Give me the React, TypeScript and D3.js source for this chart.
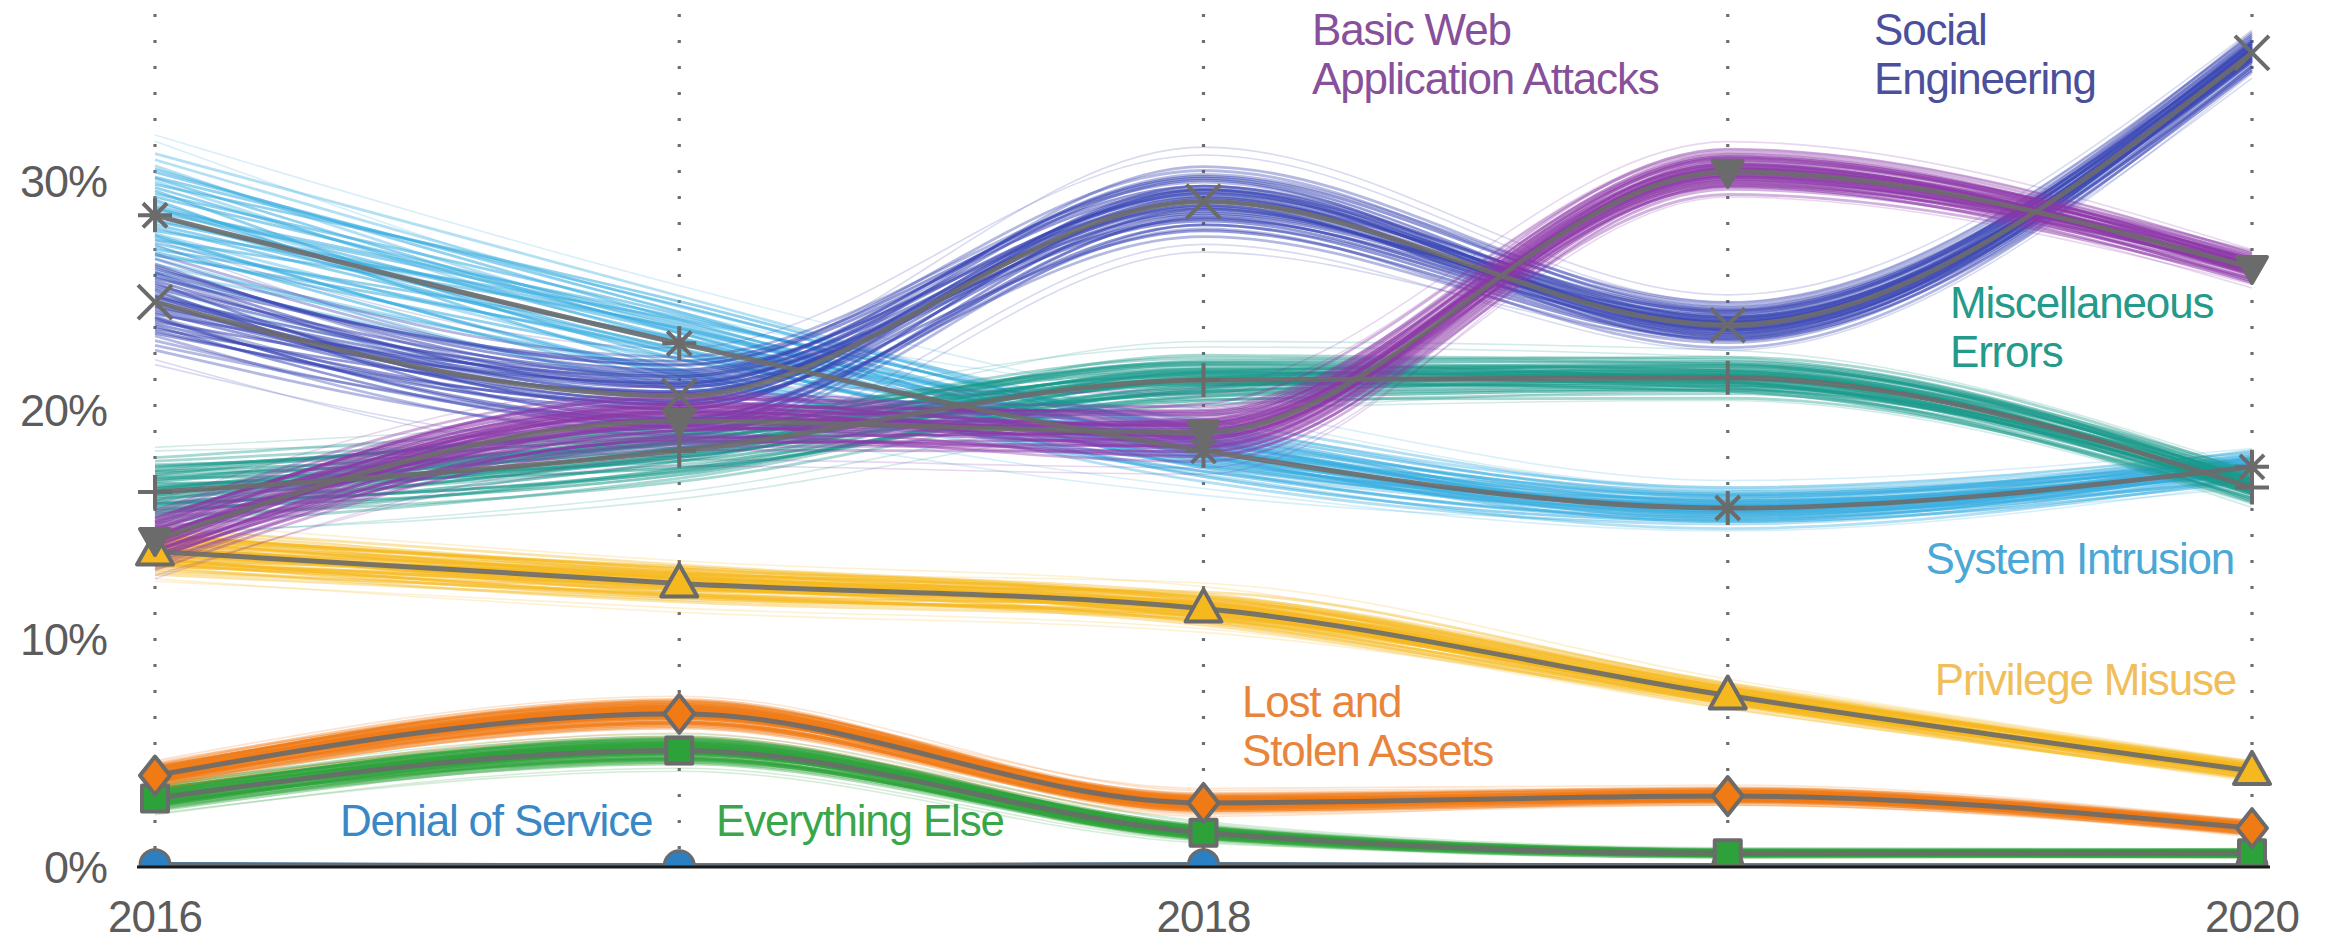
import React from "react";
import * as d3 from "d3";

const years = [2016, 2017, 2018, 2019, 2020];
const yTicks = [0, 10, 20, 30];
const xTickYears = [2016, 2018, 2020];

const seriesNames = [
  "Denial of Service",
  "Everything Else",
  "Lost and Stolen Assets",
  "Privilege Misuse",
  "System Intrusion",
  "Miscellaneous Errors",
  "Social Engineering",
  "Basic Web Application Attacks",
];

const dosValues = [0.1, 0.05, 0.1, 0.05, 0.05];
const everythingElseValues = [3.0, 5.1, 1.5, 0.6, 0.6];
const lostStolenValues = [4.0, 6.7, 2.8, 3.1, 1.7];
const privilegeValues = [13.8, 12.4, 11.3, 7.5, 4.2];
const systemIntrusionValues = [28.5, 22.9, 18.2, 15.7, 17.5];
const miscErrorsValues = [16.4, 18.2, 21.3, 21.4, 16.6];
const socialEngValues = [24.7, 20.6, 29.1, 23.7, 35.6];
const basicWebValues = [14.3, 19.5, 19.0, 30.4, 26.2];

// half-width of the spread of sampled lines, per year (percentage points)
const dosSpread = [0.05, 0.05, 0.05, 0.05, 0.05];
const everythingElseSpread = [0.55, 0.65, 0.35, 0.2, 0.2];
const lostStolenSpread = [0.5, 0.7, 0.45, 0.4, 0.35];
const privilegeSpread = [1.0, 0.9, 0.8, 0.6, 0.45];
const systemIntrusionSpread = [2.7, 2.3, 1.5, 1.0, 0.8];
const miscErrorsSpread = [1.5, 1.5, 1.2, 1.0, 0.8];
const socialEngSpread = [2.1, 1.9, 1.7, 1.1, 1.0];
const basicWebSpread = [1.3, 1.4, 1.4, 1.1, 0.8];

// hand-typed deviation patterns (in units of the spread) for the thin sample lines
const sampleDeviations = [
  [0.9, 0.7, 0.8, 0.6, 0.5],
  [-0.8, -0.6, -0.7, -0.9, -0.6],
  [0.3, 0.4, 0.2, 0.1, 0.3],
  [-0.2, -0.1, 0.1, -0.3, -0.2],
  [0.6, 0.2, -0.3, 0.4, 0.7],
  [-0.5, -0.7, -0.2, 0.1, -0.4],
  [0.1, 0.5, 0.6, 0.3, -0.1],
  [-0.1, 0.2, -0.5, -0.4, 0.2],
  [1.0, 0.9, 0.5, 0.2, 0.0],
  [-1.0, -0.8, -0.4, -0.3, -0.5],
  [0.4, -0.3, 0.3, 0.6, 0.4],
  [-0.4, 0.3, -0.1, -0.6, -0.8],
  [0.2, 0.0, 0.9, 0.8, 0.6],
  [-0.3, -0.4, -0.9, -0.7, -0.3],
  [0.7, 0.6, 0.0, -0.2, 0.1],
  [-0.6, -0.3, 0.4, 0.5, 0.2],
  [0.0, -0.2, -0.1, 0.0, 0.1],
  [0.5, 0.8, 0.4, 0.0, -0.3],
  [-0.7, -0.9, -0.6, -0.1, 0.3],
  [0.8, 0.3, 0.7, 0.9, 0.8],
  [-0.9, -0.5, 0.0, 0.3, 0.5],
  [0.15, 0.1, -0.25, 0.2, -0.15],
  [-0.15, 0.05, 0.3, -0.2, 0.0],
  [0.35, 0.55, 0.15, -0.45, -0.6],
  [-0.45, -0.2, -0.35, 0.25, 0.45],
  [0.25, -0.5, -0.6, -0.5, -0.1],
  [-0.25, 0.45, 0.65, 0.7, 0.35],
  [0.55, 0.05, 0.1, 0.45, 0.9],
  [-0.55, 0.1, 0.25, -0.05, -0.25],
  [0.05, 0.35, -0.45, 0.15, 0.55],
  [0.45, 0.25, 0.55, -0.15, -0.35],
  [-0.35, -0.55, 0.05, 0.55, 0.15],
  [0.75, 0.45, -0.15, -0.35, 0.25],
  [-0.65, -0.15, -0.75, -0.55, -0.05],
  [0.12, -0.12, 0.22, 0.32, -0.22],
  [-0.08, 0.28, -0.18, -0.12, 0.42],
  [0.62, 0.72, 0.32, 0.12, 0.22],
  [-0.32, -0.62, -0.42, -0.22, -0.72],
  [1.3, 1.1, 1.2, 0.9, 0.8],
  [-1.3, -1.2, -1.1, -1.0, -0.9],
  [1.2, 0.6, 1.4, 1.2, 1.0],
  [-1.2, -1.4, -1.3, -0.6, -1.1],
];

type Marker = "circle" | "square" | "diamond" | "triangle" | "asterisk" | "plus" | "times" | "triangleDown";

const series = [
  { name: seriesNames[0], values: dosValues, spread: dosSpread, color: "#2b7fc3", marker: "circle" as Marker },
  { name: seriesNames[1], values: everythingElseValues, spread: everythingElseSpread, color: "#2ea23a", marker: "square" as Marker },
  { name: seriesNames[2], values: lostStolenValues, spread: lostStolenSpread, color: "#f07a14", marker: "diamond" as Marker },
  { name: seriesNames[3], values: privilegeValues, spread: privilegeSpread, color: "#f5b81e", marker: "triangle" as Marker },
  { name: seriesNames[4], values: systemIntrusionValues, spread: systemIntrusionSpread, color: "#38ade0", marker: "asterisk" as Marker },
  { name: seriesNames[5], values: miscErrorsValues, spread: miscErrorsSpread, color: "#19998a", marker: "plus" as Marker },
  { name: seriesNames[6], values: socialEngValues, spread: socialEngSpread, color: "#3a47b4", marker: "times" as Marker },
  { name: seriesNames[7], values: basicWebValues, spread: basicWebSpread, color: "#8c37a8", marker: "triangleDown" as Marker },
];

const labels = [
  { lines: ["Basic Web", "Application Attacks"], x: 1312, y: 45, anchor: "start", color: "#87509b" },
  { lines: ["Social", "Engineering"], x: 1874, y: 45, anchor: "start", color: "#4b509c" },
  { lines: ["Miscellaneous", "Errors"], x: 1950, y: 318, anchor: "start", color: "#25998a" },
  { lines: ["System Intrusion"], x: 2234, y: 574, anchor: "end", color: "#4aa7d6" },
  { lines: ["Privilege Misuse"], x: 2236, y: 695, anchor: "end", color: "#f1be5c" },
  { lines: ["Lost and", "Stolen Assets"], x: 1242, y: 717, anchor: "start", color: "#e9843c" },
  { lines: ["Denial of Service"], x: 340, y: 836, anchor: "start", color: "#3a87c5" },
  { lines: ["Everything Else"], x: 716, y: 836, anchor: "start", color: "#3aa64a" },
];

const W = 2338;
const H = 941;
const FONT = "'Liberation Sans', Arial, Helvetica, sans-serif";
const GRAY = "#6b6b6b";
const LABEL_SIZE = 44;
const LINE_GAP = 49;

function markerShape(m: Marker, x: number, y: number, color: string) {
  const s = 17;
  const common = { stroke: GRAY, strokeWidth: 4, strokeLinejoin: "round" as const };
  switch (m) {
    case "circle":
      return <circle cx={x} cy={y} r={15} fill={color} stroke={GRAY} strokeWidth={3} />;
    case "square":
      return <rect x={x - 13} y={y - 13} width={26} height={26} fill={color} {...common} />;
    case "diamond":
      return <path d={`M${x},${y - 19}L${x + 15},${y}L${x},${y + 19}L${x - 15},${y}Z`} fill={color} {...common} />;
    case "triangle":
      return <path d={`M${x},${y - 19}L${x + 18},${y + 13}L${x - 18},${y + 13}Z`} fill={color} {...common} />;
    case "triangleDown":
      return <path d={`M${x - 15},${y - 11}L${x + 15},${y - 11}L${x},${y + 15}Z`} fill={GRAY} {...common} />;
    case "asterisk": {
      const d = [0, 45, 90, 135]
        .map((a) => {
          const r = (a * Math.PI) / 180;
          const dx = Math.cos(r) * s, dy = Math.sin(r) * s;
          return `M${x - dx},${y - dy}L${x + dx},${y + dy}`;
        })
        .join("");
      return <path d={d} fill="none" {...common} />;
    }
    case "plus":
      return <path d={`M${x - s},${y}L${x + s},${y}M${x},${y - s}L${x},${y + s}`} fill="none" {...common} />;
    case "times":
      return <path d={`M${x - s},${y - s}L${x + s},${y + s}M${x - s},${y + s}L${x + s},${y - s}`} fill="none" {...common} />;
  }
}

export default function App() {
  const x = d3.scaleLinear().domain([2016, 2020]).range([155, 2252]);
  const y = d3.scaleLinear().domain([0, 30]).range([867, 181]);

  const line = d3
    .line<[number, number]>()
    .x((d) => x(d[0]))
    .y((d) => y(d[1]))
    .curve(d3.curveMonotoneX);

  return (
    <svg
      width={W}
      height={H}
      viewBox={`0 0 ${W} ${H}`}
      style={{ position: "absolute", left: 0, top: 0, background: "#fff" }}
      fontFamily={FONT}
    >
      <defs>
        <clipPath id="plot">
          <rect x={0} y={0} width={W} height={y(0)} />
        </clipPath>
      </defs>

      {/* vertical dotted gridlines */}
      {years.map((yr) => (
        <line
          key={yr}
          x1={x(yr)}
          x2={x(yr)}
          y1={14}
          y2={y(0)}
          stroke="#6e6e6e"
          strokeWidth={3.2}
          strokeDasharray="3 23"
        />
      ))}

      <g clipPath="url(#plot)">
        {/* sample lines */}
        {series.map((s) => (
          <g key={s.name}>
            {sampleDeviations.map((dev, k) => {
              const mag = d3.max(dev, (v) => Math.abs(v)) as number;
              const op = mag > 1.05 ? 0.2 : mag > 0.85 ? 0.38 : 0.55;
              const pts = years.map((yr, i) => [yr, s.values[i] + s.spread[i] * dev[i]] as [number, number]);
              return (
                <path
                  key={k}
                  d={line(pts) || ""}
                  fill="none"
                  stroke={s.color}
                  strokeWidth={mag > 1.05 ? 1.6 : 2.8}
                  strokeOpacity={op}
                />
              );
            })}
          </g>
        ))}

        {/* mean lines */}
        {series.map((s) => (
          <path
            key={s.name + "-mean"}
            d={line(years.map((yr, i) => [yr, s.values[i]] as [number, number])) || ""}
            fill="none"
            stroke={GRAY}
            strokeWidth={5}
            strokeOpacity={0.9}
          />
        ))}

        {/* markers */}
        {series.map((s) => (
          <g key={s.name + "-m"}>
            {years.map((yr, i) => (
              <g key={yr}>{markerShape(s.marker, x(yr), y(s.values[i]), s.color)}</g>
            ))}
          </g>
        ))}
      </g>

      {/* baseline axis */}
      <line x1={137} x2={2270} y1={y(0)} y2={y(0)} stroke="#1a1a1a" strokeWidth={3} />

      {/* y tick labels */}
      {yTicks.map((t) => (
        <text
          key={t}
          x={107}
          y={y(t)}
          dy="0.36em"
          textAnchor="end"
          fontSize={45}
          fill="#5c5c5c"
          letterSpacing={-1}
        >
          {t}%
        </text>
      ))}

      {/* x tick labels */}
      {xTickYears.map((t) => (
        <text key={t} x={x(t)} y={932} textAnchor="middle" fontSize={44} fill="#5c5c5c" letterSpacing={-1}>
          {t}
        </text>
      ))}

      {/* series labels, one text element per line */}
      {labels.map((l) =>
        l.lines.map((ln, i) => (
          <text
            key={l.lines.join(" ") + i}
            x={l.x}
            y={l.y + i * LINE_GAP}
            textAnchor={l.anchor as any}
            fontSize={LABEL_SIZE}
            fill={l.color}
            letterSpacing={-1.2}
          >
            {ln}
          </text>
        ))
      )}
    </svg>
  );
}
